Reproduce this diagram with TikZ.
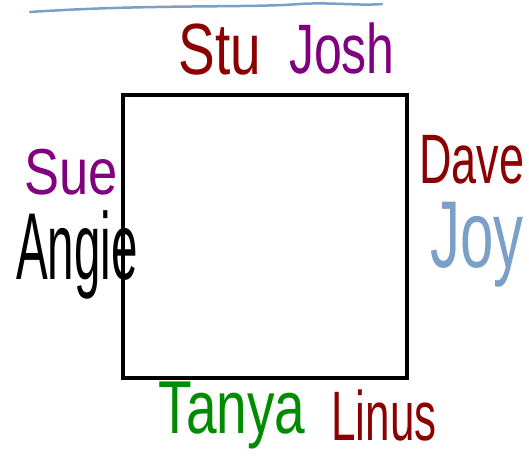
\documentclass[tikz,border=0pt]{standalone}
\usepackage{fontspec}
\setmainfont{Liberation Sans}
\usetikzlibrary{positioning}
\definecolor{darkred}{RGB}{139,0,0}
\definecolor{plum}{RGB}{128,0,128}
\definecolor{penblue}{RGB}{122,160,200}
\definecolor{pengreen}{RGB}{0,140,0}
\newcommand{\scribble}[3]{\scalebox{#1}[#2]{#3}}
\tikzset{
    tablebox/.style={
        draw,
        line width=4pt,
        minimum width=284pt,
        minimum height=283pt,
        inner sep=0pt
    },
    person/.style={
        font=\fontsize{50}{54}\selectfont,
        inner sep=0pt
    },
    pen/.style={
        line width=2.5pt,
        penblue,
        line cap=round
    }
}

\begin{document}
\begin{tikzpicture}[x=1pt, y=-1pt]

    \useasboundingbox (0,0) rectangle (529,464);

    \draw[pen] (30,12) .. controls (150,4) and (250,8) .. (300,4) .. controls (330,2) and (360,6) .. (382,4);

    \node[tablebox] (table) at (265,236.5) {};

    \node[person, text=darkred] (stu) at (220,50) {\scribble{1.1}{1.45}{Stu}};
    \node[person, text=plum] (josh) at (342,48) {\scribble{1.0}{1.4}{Josh}};
    \node[person, text=plum] (sue) at (71,172) {\scribble{1.05}{1.3}{Sue}};
    \node[person, text=black] (angie) at (77,255) {\scribble{0.95}{1.9}{Angie}};
    \node[person, text=darkred] (dave) at (472,160) {\scribble{0.9}{1.4}{Dave}};
    \node[person, text=penblue] (joy) at (477,245) {\scribble{1.2}{1.9}{Joy}};
    \node[person, text=pengreen] (tanya) at (232,415) {\scribble{1.1}{1.5}{Tanya}};
    \node[person, text=darkred] (linus) at (384,415) {\scribble{0.88}{1.4}{Linus}};

\end{tikzpicture}
\end{document}
